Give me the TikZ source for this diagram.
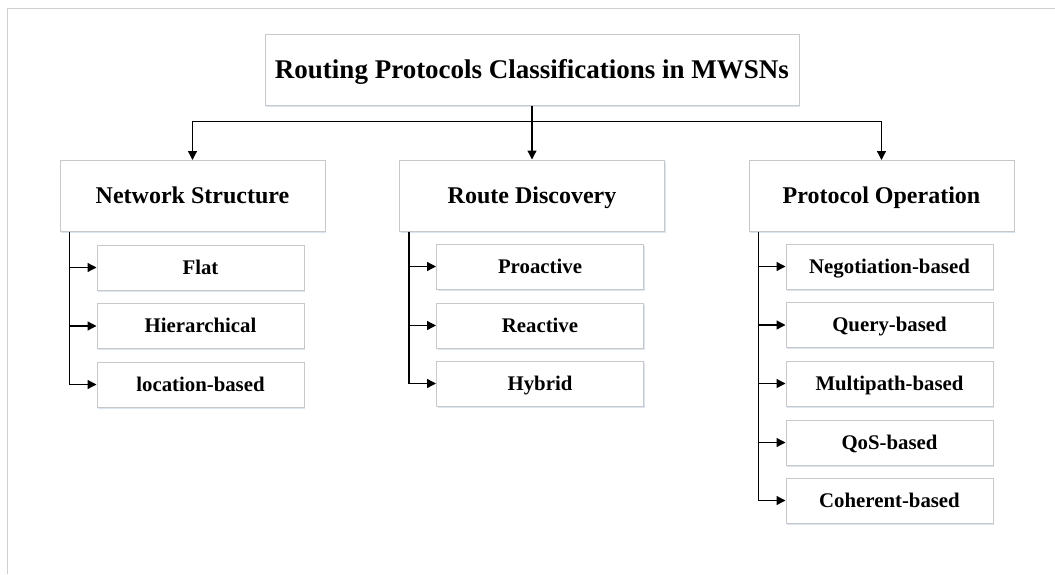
\documentclass[tikz,border=0pt]{standalone}
\usepackage{fontspec}
\setmainfont{Liberation Serif}
\usetikzlibrary{arrows.meta,shadows}
\definecolor{boxline}{HTML}{C8C8C8}
\definecolor{shadowc}{HTML}{D6E2F0}
\definecolor{framec}{HTML}{CFCFD3}
\tikzset{
  box/.style={draw=boxline, line width=1pt, fill=white, rectangle, inner sep=0pt,
    text=black, text depth=0pt,
    drop shadow={shadow xshift=1.2pt, shadow yshift=-1.6pt, fill=shadowc, opacity=0.9}},
  rootbox/.style={box, minimum width=534pt, minimum height=71pt, text height=17.9pt, font=\fontsize{27}{30}\selectfont\bfseries},
  catbox/.style={box, minimum width=265pt, minimum height=71pt, text height=15.9pt, font=\fontsize{24}{27}\selectfont\bfseries},
  leafbox/.style={box, minimum width=207pt, minimum height=45pt, text height=13.8pt, font=\fontsize{20.8}{23}\selectfont\bfseries},
  conn/.style={draw=black, line width=1.3pt},
  arr/.style={conn, -{Triangle[length=9pt,width=9pt]}},
}
\begin{document}
\begin{tikzpicture}[x=1pt,y=-1pt]
\useasboundingbox (0,0) rectangle (1055,574);
% frame
\draw[framec, line width=1.2pt] (7.5,574) -- (7.5,8.3) -- (1055,8.3);

\node[rootbox] (root) at (532,69.5) {Routing Protocols Classifications in MWSNs};

\node[catbox] (ns) at (192.5,196) {Network Structure};
\node[catbox] (rd) at (532,195.5) {Route Discovery};
\node[catbox] (po) at (881.5,196) {Protocol Operation};

\coordinate (bus) at (532,121.5);
\draw[arr] (root.south) -- (rd.north);
\draw[arr] (bus) -| (ns.north);
\draw[arr] (bus) -| (po.north);

% Network Structure leaves
\node[leafbox] (flat) at (200.5,267.5) {Flat};
\node[leafbox] (hier) at (200.5,326) {Hierarchical};
\node[leafbox] (loc) at (200.5,384.5) {location-based};
\coordinate (nsv) at ([xshift=10pt]ns.south west);
\draw[arr] (nsv) |- (flat.west);
\draw[arr] (nsv) |- (hier.west);
\draw[arr] (nsv) |- (loc.west);

% Route Discovery leaves
\node[leafbox] (pro) at (540,266.5) {Proactive};
\node[leafbox] (rea) at (540,325.5) {Reactive};
\node[leafbox] (hyb) at (540,383.5) {Hybrid};
\coordinate (rdv) at ([xshift=10pt]rd.south west);
\draw[arr] (rdv) |- (pro.west);
\draw[arr] (rdv) |- (rea.west);
\draw[arr] (rdv) |- (hyb.west);

% Protocol Operation leaves
\node[leafbox] (neg) at (889.5,266.5) {Negotiation-based};
\node[leafbox] (que) at (889.5,325) {Query-based};
\node[leafbox] (mul) at (889.5,383.5) {Multipath-based};
\node[leafbox] (qos) at (889.5,442.5) {QoS-based};
\node[leafbox] (coh) at (889.5,500.5) {Coherent-based};
\coordinate (pov) at ([xshift=10pt]po.south west);
\draw[arr] (pov) |- (neg.west);
\draw[arr] (pov) |- (que.west);
\draw[arr] (pov) |- (mul.west);
\draw[arr] (pov) |- (qos.west);
\draw[arr] (pov) |- (coh.west);
\end{tikzpicture}
\end{document}
